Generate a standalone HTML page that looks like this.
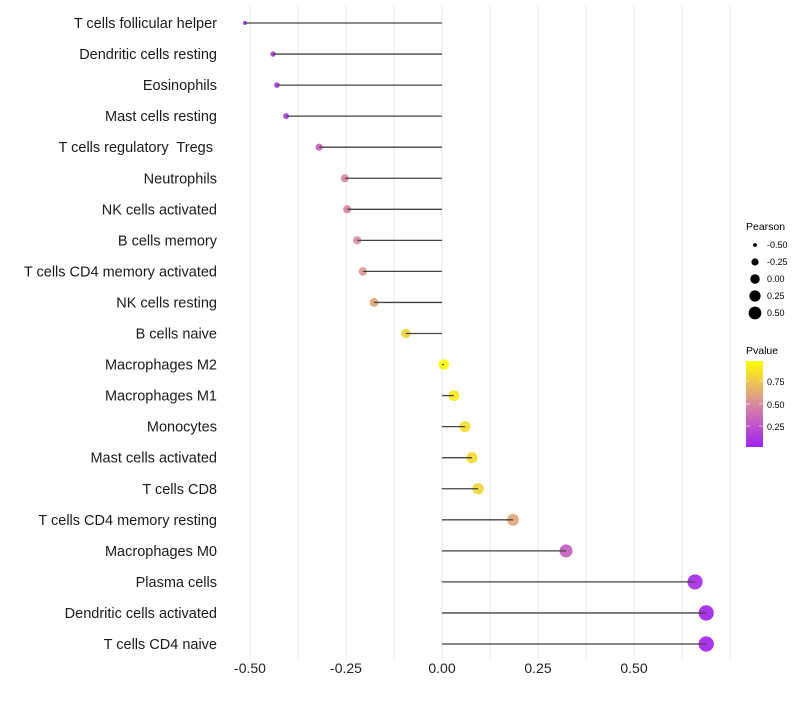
<!DOCTYPE html>
<html><head><meta charset="utf-8"><style>
body{margin:0;background:#fff;font-family:"Liberation Sans",sans-serif;}
text{white-space:pre;}
</style></head><body>
<svg id="chart" width="800" height="700" xmlns="http://www.w3.org/2000/svg" font-family="Liberation Sans, sans-serif">
<defs><linearGradient id="pgrad" x1="0" y1="1" x2="0" y2="0">
<stop offset="0" stop-color="#a020f0"/><stop offset="0.5" stop-color="#d98aa0"/><stop offset="1" stop-color="#ffff00"/></linearGradient></defs>
<g id="grid"></g>
<g id="marks"></g>
<g id="ylabels"></g>
<g id="xlabels"></g>
<g id="sizeleg">
<text x="746" y="230" font-size="10.5">Pearson</text>
</g>
<g>
<text x="746" y="354" font-size="10.5">Pvalue</text>
<rect x="746" y="361" width="17" height="86" fill="url(#pgrad)"/>
<line x1="746" y1="381" x2="750" y2="381" stroke="#fff" opacity="0.6"/><line x1="759" y1="381" x2="763" y2="381" stroke="#fff" opacity="0.6"/>
<line x1="746" y1="404" x2="750" y2="404" stroke="#fff" opacity="0.6"/><line x1="759" y1="404" x2="763" y2="404" stroke="#fff" opacity="0.6"/>
<line x1="746" y1="426" x2="750" y2="426" stroke="#fff" opacity="0.6"/><line x1="759" y1="426" x2="763" y2="426" stroke="#fff" opacity="0.6"/>
<text x="767" y="385" font-size="9">0.75</text>
<text x="767" y="408" font-size="9">0.50</text>
<text x="767" y="430" font-size="9">0.25</text>
</g>
</svg>
<script>
const categories=["T cells follicular helper","Dendritic cells resting","Eosinophils","Mast cells resting","T cells regulatory  Tregs ","Neutrophils","NK cells activated","B cells memory","T cells CD4 memory activated","NK cells resting","B cells naive","Macrophages M2","Macrophages M1","Monocytes","Mast cells activated","T cells CD8","T cells CD4 memory resting","Macrophages M0","Plasma cells","Dendritic cells activated","T cells CD4 naive"];
const pearson=[-0.513,-0.44,-0.43,-0.406,-0.32,-0.253,-0.247,-0.221,-0.206,-0.177,-0.094,0.005,0.031,0.06,0.078,0.094,0.185,0.323,0.659,0.688,0.688];
const pvalue=[0.05,0.12,0.13,0.16,0.32,0.48,0.47,0.52,0.56,0.62,0.82,0.99,0.92,0.86,0.84,0.82,0.62,0.3,0.05,0.03,0.03];
const xTicks=[-0.5,-0.25,0,0.25,0.5];
const xTickLabels=["-0.50","-0.25","0.00","0.25","0.50"];
const sizeLegendVals=[-0.5,-0.25,0,0.25,0.5];
const sizeLegendLabels=["-0.50","-0.25","0.00","0.25","0.50"];
const NS="http://www.w3.org/2000/svg";
const xs=v=>442+v*384;
const ys=i=>23+i*31.05;
const rs=v=>Math.sqrt(Math.max(2,27.4+45.6*v));
function lerp(a,b,t){return Math.round(a+(b-a)*t);}
function col(p){const s=[[160,32,240],[217,138,160],[255,255,0]];let t=p*2,i=0;if(t>1){i=1;t-=1;}const A=s[i],B=s[i+1];return `rgb(${lerp(A[0],B[0],t)},${lerp(A[1],B[1],t)},${lerp(A[2],B[2],t)})`;}
function mk(tag,attrs,parent){const e=document.createElementNS(NS,tag);for(const k in attrs)e.setAttribute(k,attrs[k]);parent.appendChild(e);return e;}
const grid=document.getElementById('grid'),marks=document.getElementById('marks'),yl=document.getElementById('ylabels'),xl=document.getElementById('xlabels'),sl=document.getElementById('sizeleg');
for(let v=-0.5;v<=0.75;v+=0.125){const g=mk('line',{x1:xs(v),x2:xs(v),y1:5,y2:660,stroke:'#ebebeb','stroke-width':1},grid);

}
xTicks.forEach((v,i)=>{const t=mk('text',{x:xs(v),y:673,'font-size':14,'text-anchor':'middle',fill:'#222'},xl);t.textContent=xTickLabels[i];

});
categories.forEach((c,i)=>{const y=ys(i);
const t=mk('text',{x:217,y:y+5,'font-size':14.5,'text-anchor':'end',fill:'#1a1a1a'},yl);t.textContent=c;


const p=mk('circle',{cx:xs(pearson[i]),cy:y,r:rs(pearson[i]),fill:col(pvalue[i]),opacity:0.92},marks);


const l=mk('line',{x1:xs(0),x2:xs(pearson[i]),y1:y,y2:y,stroke:'#444','stroke-width':1.3},marks);

});
sizeLegendVals.forEach((v,i)=>{const y=245+i*17;
const c=mk('circle',{cx:755,cy:y,r:rs(v)*0.9,fill:'#000'},sl);


const t=mk('text',{x:767,y:y+3,'font-size':9},sl);t.textContent=sizeLegendLabels[i];

});
</script>
</body></html>
